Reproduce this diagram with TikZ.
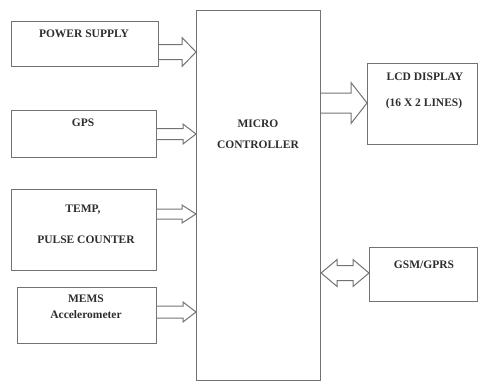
\documentclass[tikz,border=0pt]{standalone}
\usepackage{fontspec}
\setmainfont{Liberation Serif}
\usetikzlibrary{calc}
\definecolor{boxgray}{RGB}{115,115,115}
\definecolor{inkgray}{RGB}{45,45,45}
% hollow block arrow: from, to, y, shaft half width, head half width, head length
\newcommand{\inarrow}[6]{\draw[hollow] let \p1=(#1.east |- 0,#3), \p2=(#2.west |- 0,#3) in
  (\x1,\y1+#4) -- (\x2-#6,\y1+#4) -- (\x2-#6,\y1+#5) -- (\p2)
  -- (\x2-#6,\y1-#5) -- (\x2-#6,\y1-#4) -- (\x1,\y1-#4);}

\begin{document}
\begin{tikzpicture}[x=1pt,y=-1pt,
  blk/.style={draw=boxgray, line width=1.1pt, anchor=north west, inner sep=0pt},
  lbl/.style={font=\bfseries\fontsize{11.5}{13}\selectfont, text=inkgray, anchor=base, inner sep=0pt},
  hollow/.style={draw=boxgray, line width=1pt, line join=miter}]
\useasboundingbox (0,0) rectangle (480,381);
% blocks
\node[blk, minimum width=147pt, minimum height=45pt] (ps) at (11,21) {};
\node[blk, minimum width=145pt, minimum height=47pt] (gps) at (11,110) {};
\node[blk, minimum width=145pt, minimum height=81pt] (temp) at (11,189) {};
\node[blk, minimum width=139pt, minimum height=56pt] (mems) at (17,287) {};
\node[blk, minimum width=124pt, minimum height=370pt] (mcu) at (196,10) {};
\node[blk, minimum width=110pt, minimum height=81pt] (lcd) at (367,63) {};
\node[blk, minimum width=108pt, minimum height=54pt] (gsm) at (369,247) {};
% labels
\node[lbl] (pstext) at (84,37) {POWER SUPPLY};
\node[lbl] (gpstext) at (83,126) {GPS};
\node[lbl] (temptext) at (83,212) {TEMP,};
\node[lbl] (pulsetext) at (86,243) {PULSE COUNTER};
\node[lbl] (memstext) at (86,302) {MEMS};
\node[lbl] (acctext) at (86,318) {Accelerometer};
\node[lbl] (mcutext) at (258,127) {MICRO};
\node[lbl] (ctrltext) at (258,148) {CONTROLLER};
\node[lbl] (lcdtext) at (425,80) {LCD DISPLAY};
\node[lbl] (linestext) at (424,106) {(16 X 2 LINES)};
\node[lbl] (gsmtext) at (424,268) {GSM/GPRS};
% arrows into and out of the controller
\inarrow{ps}{mcu}{52}{7.5pt}{14.5pt}{14pt}
\inarrow{gps}{mcu}{134}{5.5pt}{10pt}{13pt}
\inarrow{temp}{mcu}{214}{5pt}{9pt}{14pt}
\inarrow{mems}{mcu}{312}{6pt}{10pt}{13pt}
\inarrow{mcu}{lcd}{103}{10pt}{20.5pt}{16pt}
% two way link to the modem
\draw[hollow] let \p1=(mcu.east |- 0,273), \p2=(gsm.west |- 0,273) in
  (\p1) -- (\x1+16pt,\y1+13.5pt) -- (\x1+16pt,\y1+7.5pt) -- (\x2-16pt,\y1+7.5pt)
  -- (\x2-16pt,\y1+13.5pt) -- (\p2) -- (\x2-16pt,\y1-13.5pt) -- (\x2-16pt,\y1-7.5pt)
  -- (\x1+16pt,\y1-7.5pt) -- (\x1+16pt,\y1-13.5pt) -- cycle;
\end{tikzpicture}
\end{document}
